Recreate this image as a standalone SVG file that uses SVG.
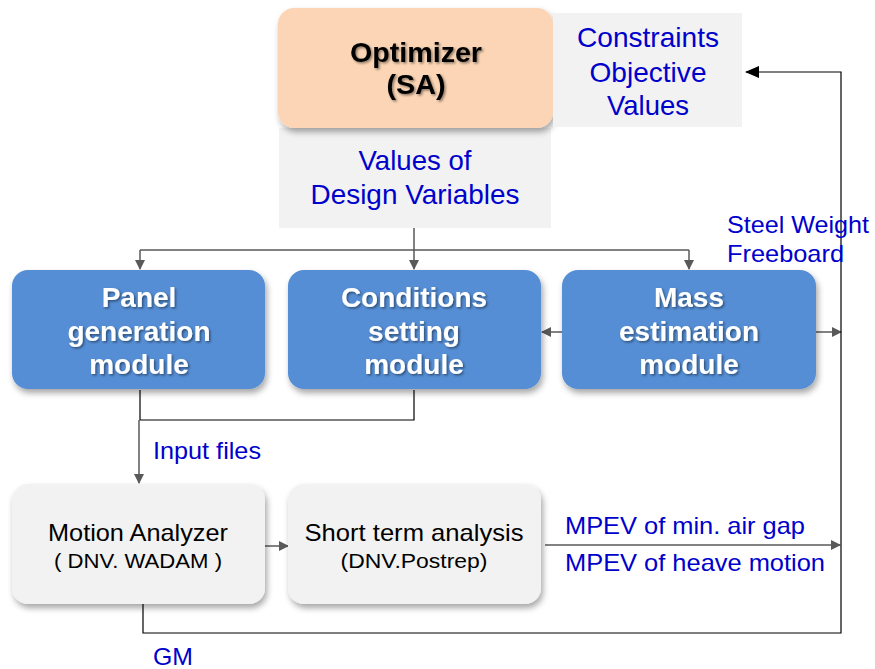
<svg xmlns="http://www.w3.org/2000/svg" width="875" height="669" viewBox="0 0 875 669">
<defs>
<filter id="sh" x="-10%" y="-10%" width="130%" height="130%">
<feDropShadow dx="2" dy="4" stdDeviation="3" flood-color="#000" flood-opacity="0.35"/>
</filter>
<filter id="tsh" x="-10%" y="-20%" width="130%" height="150%">
<feDropShadow dx="1.5" dy="1.5" stdDeviation="1" flood-color="#000" flood-opacity="0.45"/>
</filter>
<marker id="ah" markerWidth="10" markerHeight="10" refX="9" refY="5" orient="auto" markerUnits="userSpaceOnUse">
<path d="M0,0 L10,5 L0,10 Z" fill="#595959"/>
</marker>
<marker id="ahb" markerWidth="14" markerHeight="12" refX="13" refY="6" orient="auto" markerUnits="userSpaceOnUse">
<path d="M0,6 L14,0 L14,12 Z" fill="#000" transform="rotate(180 7 6)"/>
</marker>
</defs>
<style>
.lbl{font-family:"Liberation Sans",Arial,sans-serif;fill:#0000CC;}
.mod{fill:#558ED5;filter:url(#sh);}
.gry{fill:#F2F2F2;}
.mt{font-family:"Liberation Sans",Arial,sans-serif;font-weight:bold;font-size:28px;fill:#fff;filter:url(#tsh);text-anchor:middle;}
.bt{font-family:"Liberation Sans",Arial,sans-serif;fill:#000;text-anchor:middle;}
.ln{fill:none;stroke:#595959;stroke-width:1.5;}
.lk{fill:none;stroke:#000;stroke-width:1.2;}
</style>
<g id="connectors">
<path class="ln" d="M414,228 V250"/>
<path class="ln" d="M140,250 H689"/>
<path class="ln" d="M140,250 V269" marker-end="url(#ah)"/>
<path class="ln" d="M414,250 V269" marker-end="url(#ah)"/>
<path class="ln" d="M689,250 V269" marker-end="url(#ah)"/>
<path class="ln" d="M562,332 H542" marker-end="url(#ah)"/>
<path class="ln" d="M816,332 H841" marker-end="url(#ah)"/>
<path class="lk" d="M140,390 V420 H414 V390"/>
<path class="ln" d="M139,420 V483" marker-end="url(#ah)"/>
<path class="ln" d="M265,546 H288" marker-end="url(#ah)"/>
<path class="ln" d="M545,545 H840" marker-end="url(#ah)"/>
<path class="lk" d="M143,604 V633 H841 V72 H746" marker-end="url(#ahb)"/>
</g>
<g id="optimizer">
<rect x="279" y="128" width="272" height="100" class="gry"/>
<rect x="278" y="8" width="275" height="120" rx="16" fill="#FBD5B5" filter="url(#sh)"/>
<text class="bt" x="416" y="62" font-size="28" font-weight="bold" filter="url(#tsh)" textLength="132" lengthAdjust="spacingAndGlyphs">Optimizer</text>
<text class="bt" x="416" y="94" font-size="28" font-weight="bold" filter="url(#tsh)" textLength="59" lengthAdjust="spacingAndGlyphs">(SA)</text>
</g>
<g id="constraints">
<rect x="553" y="13" width="189" height="114" class="gry"/>
<text class="lbl" x="648" y="47" font-size="28" text-anchor="middle" textLength="142" lengthAdjust="spacingAndGlyphs">Constraints</text>
<text class="lbl" x="648" y="82" font-size="28" text-anchor="middle" textLength="117" lengthAdjust="spacingAndGlyphs">Objective</text>
<text class="lbl" x="648" y="115" font-size="28" text-anchor="middle" textLength="82" lengthAdjust="spacingAndGlyphs">Values</text>
</g>
<g id="design-vars">
<text class="lbl" x="415" y="170" font-size="28" text-anchor="middle" textLength="113" lengthAdjust="spacingAndGlyphs">Values of</text>
<text class="lbl" x="415" y="204" font-size="28" text-anchor="middle" textLength="209" lengthAdjust="spacingAndGlyphs">Design Variables</text>
</g>
<g id="panel">
<rect x="12" y="270" width="253" height="119" rx="16" class="mod"/>
<text class="mt" x="139" y="307">Panel</text>
<text class="mt" x="139" y="341">generation</text>
<text class="mt" x="139" y="374">module</text>
</g>
<g id="conditions">
<rect x="288" y="270" width="253" height="119" rx="16" class="mod"/>
<text class="mt" x="414" y="307">Conditions</text>
<text class="mt" x="414" y="341">setting</text>
<text class="mt" x="414" y="374">module</text>
</g>
<g id="mass">
<rect x="562" y="270" width="254" height="119" rx="16" class="mod"/>
<text class="mt" x="689" y="307">Mass</text>
<text class="mt" x="689" y="341">estimation</text>
<text class="mt" x="689" y="374">module</text>
</g>
<g id="motion">
<rect x="12" y="484" width="253" height="120" rx="16" class="gry" filter="url(#sh)"/>
<text class="bt" x="138" y="541" font-size="24" textLength="180" lengthAdjust="spacingAndGlyphs">Motion Analyzer</text>
<text class="bt" x="138" y="568" font-size="20" textLength="168" lengthAdjust="spacingAndGlyphs">( DNV. WADAM )</text>
</g>
<g id="shortterm">
<rect x="288" y="484" width="253" height="120" rx="16" class="gry" filter="url(#sh)"/>
<text class="bt" x="414" y="541" font-size="24" textLength="219" lengthAdjust="spacingAndGlyphs">Short term analysis</text>
<text class="bt" x="414" y="568" font-size="20" textLength="147" lengthAdjust="spacingAndGlyphs">(DNV.Postrep)</text>
</g>
<g id="labels">
<text class="lbl" x="153" y="459" font-size="24" textLength="108" lengthAdjust="spacingAndGlyphs">Input files</text>
<text class="lbl" x="727" y="233" font-size="24" textLength="142" lengthAdjust="spacingAndGlyphs">Steel Weight</text>
<text class="lbl" x="727" y="262" font-size="24" textLength="117" lengthAdjust="spacingAndGlyphs">Freeboard</text>
<text class="lbl" x="565" y="534" font-size="24" textLength="240" lengthAdjust="spacingAndGlyphs">MPEV of min. air gap</text>
<text class="lbl" x="565" y="571" font-size="24" textLength="260" lengthAdjust="spacingAndGlyphs">MPEV of heave motion</text>
<text class="lbl" x="153" y="665" font-size="24" textLength="40" lengthAdjust="spacingAndGlyphs">GM</text>
</g>
</svg>
